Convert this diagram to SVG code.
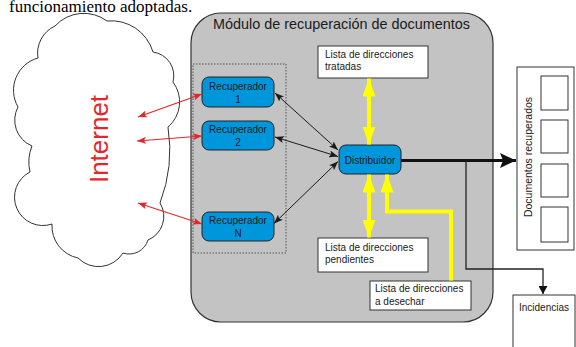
<svg xmlns="http://www.w3.org/2000/svg" width="576" height="347" viewBox="0 0 576 347">
<style>
.t{font-family:"Liberation Sans",Arial,sans-serif;fill:#1a1a1a}
.blue{fill:#0096DB;stroke:#222;stroke-width:1}
.wbox{fill:#fff;stroke:#333;stroke-width:1}
.lk{stroke:#1a1a1a;stroke-width:1;fill:none}
.lr{stroke:#E3262B;stroke-width:1.1;fill:none}
.ly{stroke:#FFFF00;stroke-width:4;fill:none}
</style>
<defs>
<marker id="ak" markerUnits="userSpaceOnUse" markerWidth="9" markerHeight="7" refX="9" refY="3.5" orient="auto-start-reverse"><path d="M0,0 L9,3.5 L0,7 L2,3.5 z" fill="#1a1a1a"/></marker>
<marker id="ar" markerUnits="userSpaceOnUse" markerWidth="9" markerHeight="7" refX="9" refY="3.5" orient="auto-start-reverse"><path d="M0,0 L9,3.5 L0,7 L2,3.5 z" fill="#E3262B"/></marker>
<marker id="ay" markerUnits="userSpaceOnUse" markerWidth="18" markerHeight="13" refX="18" refY="6.5" orient="auto-start-reverse"><path d="M0,0 L18,6.5 L0,13 z" fill="#FFFF00"/></marker>
<marker id="abig" markerUnits="userSpaceOnUse" markerWidth="16" markerHeight="15" refX="16" refY="7.5" orient="auto"><path d="M0,0 L16,7.5 L0,15 L3,7.5 z" fill="#111"/></marker>
<marker id="amid" markerUnits="userSpaceOnUse" markerWidth="8" markerHeight="9" refX="8" refY="4.5" orient="auto"><path d="M0,0 L8,4.5 L0,9 z" fill="#111"/></marker>
</defs>
<rect width="576" height="347" fill="#fff"/>
<text x="9" y="12" font-family="'Liberation Serif','Times New Roman',serif" font-size="17" fill="#000">funcionamiento adoptadas.</text>

<g id="internet">
<path d="M38,58 A30,30 0 0 1 55,26 A39,39 0 0 1 107,21 A43.5,43.5 0 0 1 153,52 A24,24 0 0 1 173,82 A33,33 0 0 1 168,127 A148,148 0 0 1 160,203 A25.5,25.5 0 0 1 148,240 A19.6,19.6 0 0 1 123,253 A28.8,28.8 0 0 1 78,258 A32.6,32.6 0 0 1 52,224 A28.3,28.3 0 0 1 30,172 A43,43 0 0 1 32,146 A28,28 0 0 1 18,107 A33.5,33.5 0 0 1 38,58 z" fill="#fff" stroke="#333" stroke-width="1"/>
<text transform="translate(108,139) rotate(-90)" text-anchor="middle" font-family="'Liberation Sans',Arial,sans-serif" font-size="26" fill="#E3262B">Internet</text>
</g>

<g id="modulo">
<rect x="191" y="13" width="302" height="309" rx="30" ry="30" fill="#C3C3C3" stroke="#333" stroke-width="1.2"/>
<text class="t" x="341.5" y="29" text-anchor="middle" font-size="14.4">Módulo de recuperación de documentos</text>
<rect x="193" y="64" width="93" height="189" fill="none" stroke="#555" stroke-width="1" stroke-dasharray="1.5,1.5"/>
</g>

<g id="recuperador1">
<rect class="blue" x="202" y="77" width="72" height="30" rx="7"/>
<text class="t" x="238" y="89.5" text-anchor="middle" font-size="10">Recuperador</text>
<text class="t" x="238" y="102.5" text-anchor="middle" font-size="10">1</text>
</g>
<g id="recuperador2">
<rect class="blue" x="202" y="121" width="72" height="29" rx="7"/>
<text class="t" x="238" y="133" text-anchor="middle" font-size="10">Recuperador</text>
<text class="t" x="238" y="145.5" text-anchor="middle" font-size="10">2</text>
</g>
<g id="recuperadorN">
<rect class="blue" x="202" y="212" width="72" height="29" rx="7"/>
<text class="t" x="238" y="224" text-anchor="middle" font-size="10">Recuperador</text>
<text class="t" x="238" y="236.5" text-anchor="middle" font-size="10">N</text>
</g>
<g id="distribuidor">
<rect class="blue" x="339" y="145" width="62" height="29" rx="7"/>
<text class="t" x="370" y="163.5" text-anchor="middle" font-size="10">Distribuidor</text>
</g>
<g id="tratadas">
<rect class="wbox" x="318" y="46" width="110" height="32"/>
<text class="t" x="325" y="57.5" font-size="10">Lista de direcciones</text>
<text class="t" x="325" y="69.5" font-size="10">tratadas</text>
</g>
<g id="pendientes">
<rect class="wbox" x="318" y="238" width="110" height="34"/>
<text class="t" x="325" y="250.5" font-size="10">Lista de direcciones</text>
<text class="t" x="325" y="263" font-size="10">pendientes</text>
</g>
<g id="desechar">
<rect class="wbox" x="370" y="281" width="101" height="29"/>
<text class="t" x="375" y="292" font-size="10">Lista de direcciones</text>
<text class="t" x="375" y="304.5" font-size="10">a desechar</text>
</g>
<g id="documentos">
<rect class="wbox" x="517" y="67" width="57" height="183"/>
<rect class="wbox" x="541" y="76" width="27" height="34"/>
<rect class="wbox" x="541" y="120" width="27" height="33"/>
<rect class="wbox" x="541" y="164" width="27" height="33"/>
<rect class="wbox" x="541" y="207" width="27" height="35"/>
<text class="t" transform="translate(531.5,157) rotate(-90)" text-anchor="middle" font-size="10.5">Documentos recuperados</text>
</g>
<g id="incidencias">
<rect class="wbox" x="513" y="295" width="62" height="60"/>
<text class="t" x="519" y="311" font-size="10">Incidencias</text>
</g>

<g id="connectors">
<line class="lr" x1="138" y1="117" x2="202" y2="94" marker-start="url(#ar)" marker-end="url(#ar)"/>
<line class="lr" x1="137" y1="141" x2="202" y2="136" marker-start="url(#ar)" marker-end="url(#ar)"/>
<line class="lr" x1="138" y1="203" x2="202" y2="224" marker-start="url(#ar)" marker-end="url(#ar)"/>
<line class="lk" x1="275" y1="93" x2="338" y2="150" marker-start="url(#ak)" marker-end="url(#ak)"/>
<line class="lk" x1="275" y1="137" x2="338" y2="156.5" marker-start="url(#ak)" marker-end="url(#ak)"/>
<line class="lk" x1="274" y1="223.5" x2="338" y2="161.5" marker-start="url(#ak)" marker-end="url(#ak)"/>
<line class="ly" x1="369" y1="78.5" x2="369" y2="144.5" marker-start="url(#ay)" marker-end="url(#ay)"/>
<line class="ly" x1="369" y1="174.5" x2="369" y2="237.5" marker-start="url(#ay)" marker-end="url(#ay)"/>
<polyline class="ly" stroke-width="3.3" points="451,280.5 451,211.5 387,211.5 387,174.5" marker-end="url(#ay)"/>
<line x1="401" y1="160.5" x2="516" y2="160.5" stroke="#111" stroke-width="3" marker-end="url(#abig)"/>
<polyline points="466,160.5 466,269 543,269 543,294" fill="none" stroke="#222" stroke-width="1.3" marker-end="url(#amid)"/>
</g>
</svg>
